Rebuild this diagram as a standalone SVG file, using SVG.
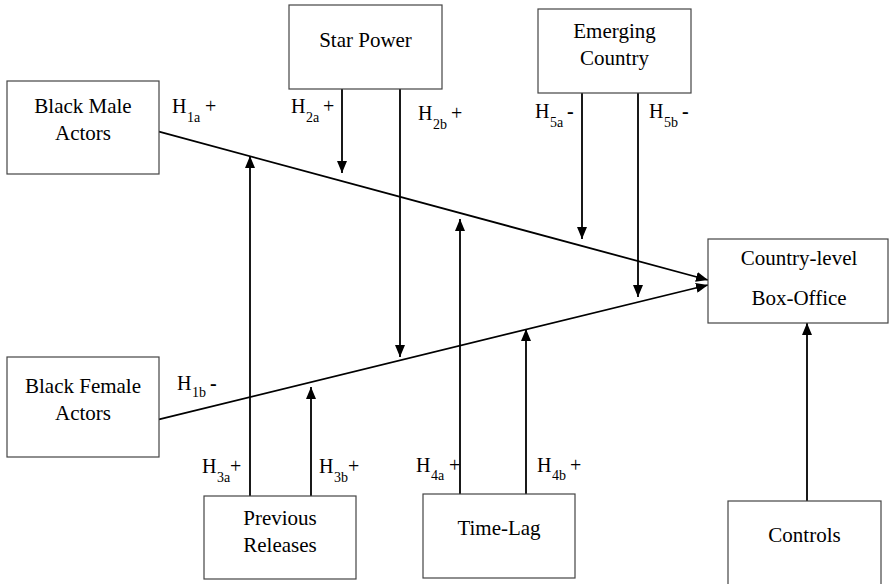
<svg xmlns="http://www.w3.org/2000/svg" width="889" height="584" viewBox="0 0 889 584">
<defs>
  <marker id="ah" markerUnits="userSpaceOnUse" viewBox="0 0 12 10" refX="12" refY="5" markerWidth="12" markerHeight="10" orient="auto">
    <path d="M0,0 L12,5 L0,10 Z" fill="#000"/>
  </marker>
</defs>
<rect width="889" height="584" fill="#fff"/>

<g id="connectors" stroke="#000" stroke-width="1.8" fill="none" marker-end="url(#ah)">
  <line x1="159" y1="131.7" x2="708" y2="280"/>
  <line x1="159" y1="419.3" x2="708" y2="285"/>
  <line x1="342" y1="89" x2="342" y2="173"/>
  <line x1="400" y1="89" x2="400" y2="357"/>
  <line x1="582" y1="93" x2="582" y2="239"/>
  <line x1="638" y1="93" x2="638" y2="297"/>
  <line x1="250" y1="496" x2="250" y2="156"/>
  <line x1="311" y1="496" x2="311" y2="387"/>
  <line x1="460" y1="494" x2="460" y2="219"/>
  <line x1="526" y1="494" x2="526" y2="329"/>
  <line x1="807" y1="501" x2="807" y2="323"/>
</g>

<g id="black-male-actors">
  <rect x="7" y="81" width="152" height="93" fill="#fff" stroke="#444" stroke-width="1.2"/>
  <text x="83" y="113" font-family="Liberation Serif" font-size="21" text-anchor="middle">Black Male</text>
  <text x="83" y="140" font-family="Liberation Serif" font-size="21" text-anchor="middle">Actors</text>
</g>
<g id="star-power">
  <rect x="289" y="5" width="153" height="84" fill="#fff" stroke="#444" stroke-width="1.2"/>
  <text x="365.5" y="47" font-family="Liberation Serif" font-size="21" text-anchor="middle">Star Power</text>
</g>
<g id="emerging-country">
  <rect x="538" y="9" width="153" height="84" fill="#fff" stroke="#444" stroke-width="1.2"/>
  <text x="614.5" y="38" font-family="Liberation Serif" font-size="21" text-anchor="middle">Emerging</text>
  <text x="614.5" y="65" font-family="Liberation Serif" font-size="21" text-anchor="middle">Country</text>
</g>
<g id="country-level-box-office">
  <rect x="708" y="239" width="180" height="84" fill="#fff" stroke="#444" stroke-width="1.2"/>
  <text x="799" y="265" font-family="Liberation Serif" font-size="21" text-anchor="middle">Country-level</text>
  <text x="799" y="305" font-family="Liberation Serif" font-size="21" text-anchor="middle">Box-Office</text>
</g>
<g id="black-female-actors">
  <rect x="7" y="357" width="152" height="100" fill="#fff" stroke="#444" stroke-width="1.2"/>
  <text x="83" y="393" font-family="Liberation Serif" font-size="21" text-anchor="middle">Black Female</text>
  <text x="83" y="420" font-family="Liberation Serif" font-size="21" text-anchor="middle">Actors</text>
</g>
<g id="previous-releases">
  <rect x="204" y="496" width="152" height="83" fill="#fff" stroke="#444" stroke-width="1.2"/>
  <text x="280" y="525" font-family="Liberation Serif" font-size="21" text-anchor="middle">Previous</text>
  <text x="280" y="552" font-family="Liberation Serif" font-size="21" text-anchor="middle">Releases</text>
</g>
<g id="time-lag">
  <rect x="423" y="494" width="152" height="84" fill="#fff" stroke="#444" stroke-width="1.2"/>
  <text x="499" y="535" font-family="Liberation Serif" font-size="21" text-anchor="middle">Time-Lag</text>
</g>
<g id="controls">
  <rect x="728" y="501" width="153" height="90" fill="#fff" stroke="#444" stroke-width="1.2"/>
  <text x="804.5" y="542" font-family="Liberation Serif" font-size="21" text-anchor="middle">Controls</text>
</g>

<g id="labels">
  <text x="172" y="113" font-family="Liberation Serif" font-size="20">H<tspan font-size="14" x="187" y="122">1a</tspan><tspan x="205" y="113">+</tspan></text>
  <text x="291" y="113" font-family="Liberation Serif" font-size="20">H<tspan font-size="14" x="306" y="122">2a</tspan><tspan x="323" y="113">+</tspan></text>
  <text x="418" y="120" font-family="Liberation Serif" font-size="20">H<tspan font-size="14" x="433" y="129">2b</tspan><tspan x="451" y="120">+</tspan></text>
  <text x="535" y="118" font-family="Liberation Serif" font-size="20">H<tspan font-size="14" x="550" y="127">5a</tspan><tspan x="567" y="118" font-weight="bold">-</tspan></text>
  <text x="649" y="118" font-family="Liberation Serif" font-size="20">H<tspan font-size="14" x="664" y="127">5b</tspan><tspan x="682" y="118" font-weight="bold">-</tspan></text>
  <text x="177" y="390" font-family="Liberation Serif" font-size="20">H<tspan font-size="14" x="192" y="397">1b</tspan><tspan x="210" y="390" font-weight="bold">-</tspan></text>
  <text x="202" y="473" font-family="Liberation Serif" font-size="20">H<tspan font-size="14" x="217" y="482">3a</tspan><tspan x="230" y="473">+</tspan></text>
  <text x="319" y="473" font-family="Liberation Serif" font-size="20">H<tspan font-size="14" x="334" y="482">3b</tspan><tspan x="348" y="473">+</tspan></text>
  <text x="416" y="472" font-family="Liberation Serif" font-size="20">H<tspan font-size="14" x="431" y="480">4a</tspan><tspan x="449" y="472">+</tspan></text>
  <text x="537" y="472" font-family="Liberation Serif" font-size="20">H<tspan font-size="14" x="552" y="480">4b</tspan><tspan x="570" y="472">+</tspan></text>
</g>
</svg>
